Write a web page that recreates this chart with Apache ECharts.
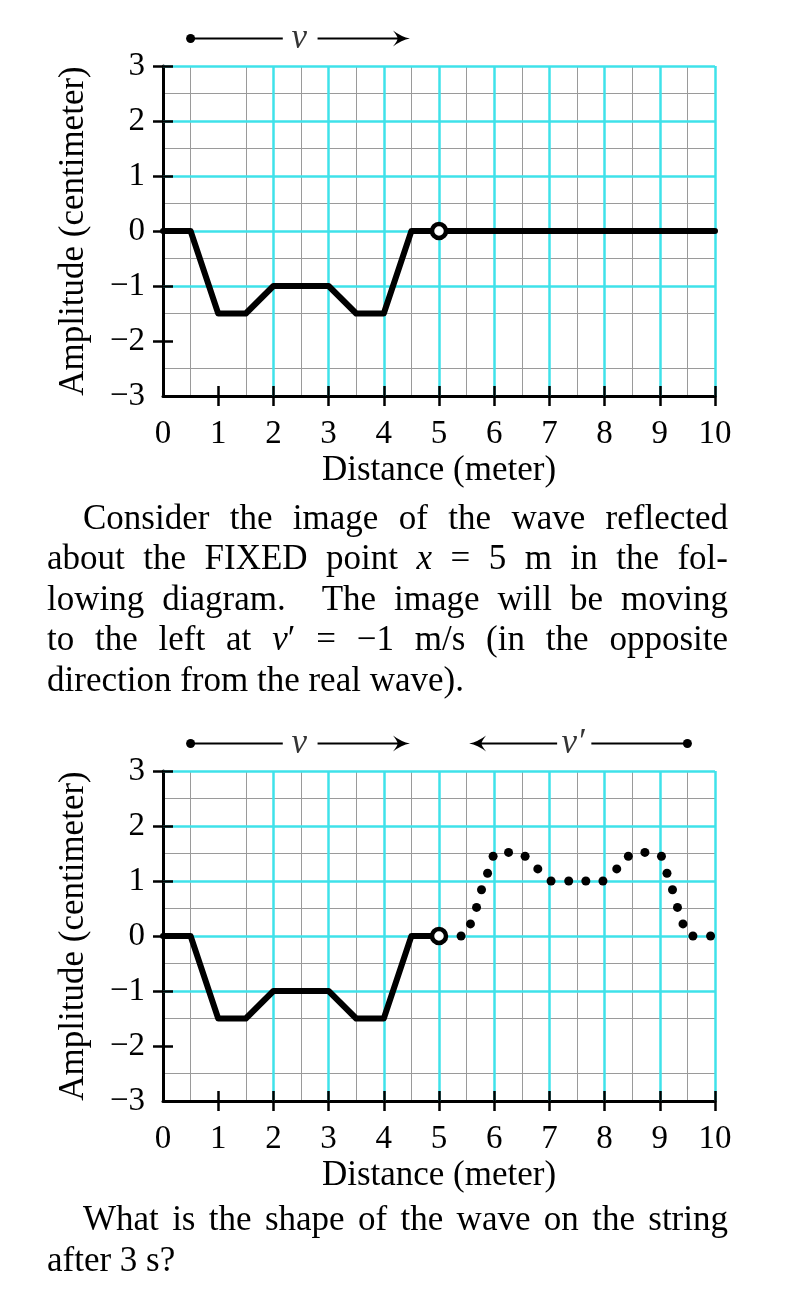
<!DOCTYPE html>
<html><head><meta charset="utf-8">
<script src="https://cdn.jsdelivr.net/npm/echarts@6/dist/echarts.min.js"></script>
<style>
html,body{margin:0;padding:0;background:#fff;}
#page{position:relative;width:800px;height:1302px;overflow:hidden;background:#fff;}
#chart{position:absolute;left:0;top:0;width:800px;height:1302px;}
.ln{position:absolute;font-family:'Liberation Serif','Times New Roman',serif;font-size:35px;line-height:40px;white-space:nowrap;color:#000;}
.j{text-align:justify;text-align-last:justify;white-space:normal;}
</style></head>
<body>
<div id="page">
<div id="chart"></div>
<div class="ln j" style="left:83px;width:645px;top:498px;">Consider the image of the wave reflected</div>
<div class="ln j" style="left:47px;width:681px;top:538px;">about the FIXED point <i>x</i> = 5 m in the fol-</div>
<div class="ln j" style="left:47px;width:681px;top:579px;">lowing diagram. &nbsp;The image will be moving</div>
<div class="ln j" style="left:47px;width:681px;top:619px;">to the left at <i>v</i>′ = −1 m/s (in the opposite</div>
<div class="ln" style="left:47px;top:660px;">direction from the real wave).</div>
<div class="ln j" style="left:83px;width:645px;top:1199px;">What is the shape of the wave on the string</div>
<div class="ln" style="left:47px;top:1240px;">after 3 s?</div>
</div>
<script>
// ---- data ----
const xTickValues = [1, 2, 3, 4, 5, 6, 7, 8, 9, 10];
const yTickValues = [-2, -1, 0, 1, 2, 3];
const waveX1 = [0, 0.5, 1, 1.5, 2, 3, 3.5, 4, 4.5, 5, 10];
const waveY1 = [0, 0, -1.5, -1.5, -1, -1, -1.5, -1.5, 0, 0, 0];
const waveX2 = [0, 0.5, 1, 1.5, 2, 3, 3.5, 4, 4.5, 5];
const waveY2 = [0, 0, -1.5, -1.5, -1, -1, -1.5, -1.5, 0, 0];
const fixedPoint = [5, 0];
const imageDotsX = [5.40, 5.57, 5.68, 5.77, 5.88, 5.98, 6.26, 6.56, 6.79, 7.03, 7.35, 7.66, 7.97, 8.22, 8.43, 8.73, 9.03, 9.13, 9.23, 9.32, 9.42, 9.60, 9.92];
const imageDotsY = [0, 0.22, 0.52, 0.84, 1.14, 1.45, 1.52, 1.45, 1.22, 1.0, 1.0, 1.0, 1.0, 1.22, 1.45, 1.52, 1.45, 1.14, 0.84, 0.52, 0.22, 0, 0];
// arrow annotations: [dot/tip, gapStart, gapEnd, tip/dot]
const vArrowX = [0.5, 2.17, 2.8, 4.32];
const vPrimeArrowX = [5.70, 7.14, 7.76, 9.5];
const arrowY = 3.5;
const vLabelX = 2.47;
const vPrimeLabelX = 7.43;

const FONT = "'Liberation Serif', 'Times New Roman', serif";
const CYAN = '#3fe2ea';
const GRAY = '#9a9a9a';
const ARROW = 'path://M5,0 Q6,6.5 10,13 Q6.5,9.5 5,9.5 Q3.5,9.5 0,13 Q4,6.5 5,0 Z';

function pairs(xs, ys) { return xs.map((x, i) => [x, ys[i]]); }

function xAxes(g) {
  return [{
    type: 'value', gridIndex: g, min: 0, max: 10, interval: 1, position: 'bottom',
    axisLine: { show: true, onZero: false, lineStyle: { color: '#000', width: 3 } },
    axisTick: { show: true, customValues: xTickValues, length: 10, lineStyle: { color: '#000', width: 2.5 } },
    axisLabel: { show: true, fontFamily: FONT, fontSize: 33, color: '#000', margin: 22 },
    splitLine: { show: false },
    minorTick: { show: false, splitNumber: 2 },
    minorSplitLine: { show: true, lineStyle: { color: GRAY, width: 1 } },
    name: 'Distance (meter)', nameLocation: 'middle', nameGap: 57,
    nameTextStyle: { fontFamily: FONT, fontSize: 35, color: '#000' },
    z: 0
  }, {
    type: 'value', gridIndex: g, min: 0, max: 10, interval: 1, position: 'bottom',
    axisLine: { show: false, onZero: false },
    axisTick: { show: true, inside: true, customValues: xTickValues, length: 10, lineStyle: { color: '#000', width: 2.5 } },
    axisLabel: { show: false },
    splitLine: { show: true, showMinLine: false, lineStyle: { color: CYAN, width: 2.5 } },
    z: 1
  }];
}
function yAxes(g) {
  return [{
    type: 'value', gridIndex: g, min: -3, max: 3, interval: 1, position: 'left',
    axisLine: { show: true, onZero: false, lineStyle: { color: '#000', width: 3 } },
    axisTick: { show: true, customValues: yTickValues, length: 10, lineStyle: { color: '#000', width: 2.5 } },
    axisLabel: { show: true, fontFamily: FONT, fontSize: 33, color: '#000', margin: 18,
      formatter: v => v < 0 ? '\u2212' + (-v) : String(v) },
    splitLine: { show: false },
    minorTick: { show: false, splitNumber: 2 },
    minorSplitLine: { show: true, lineStyle: { color: GRAY, width: 1 } },
    name: 'Amplitude (centimeter)', nameLocation: 'middle', nameGap: 72, nameRotate: 90,
    nameTextStyle: { fontFamily: FONT, fontSize: 35, color: '#000' },
    z: 0
  }, {
    type: 'value', gridIndex: g, min: -3, max: 3, interval: 1, position: 'left',
    axisLine: { show: false, onZero: false },
    axisTick: { show: true, inside: true, customValues: yTickValues, length: 10, lineStyle: { color: '#000', width: 2.5 } },
    axisLabel: { show: false },
    splitLine: { show: true, showMinLine: false, lineStyle: { color: CYAN, width: 2.5 } },
    z: 1
  }];
}

function waveSeries(ax, xs, ys) {
  return {
    type: 'line', xAxisIndex: ax, yAxisIndex: ax, data: pairs(xs, ys),
    symbol: 'none', lineStyle: { color: '#000', width: 6, join: 'round', cap: 'round' }, z: 3, animation: false
  };
}
function circleSeries(ax) {
  return {
    type: 'scatter', xAxisIndex: ax, yAxisIndex: ax, data: [fixedPoint],
    symbol: 'circle', symbolSize: 14,
    itemStyle: { color: '#fff', borderColor: '#000', borderWidth: 4.5, opacity: 1 }, z: 5, animation: false
  };
}
function segSeries(ax, a, b, symA, symB) {
  const d0 = { value: [a, arrowY] }, d1 = { value: [b, arrowY] };
  if (symA) Object.assign(d0, symA);
  if (symB) Object.assign(d1, symB);
  return {
    type: 'line', xAxisIndex: ax, yAxisIndex: ax, clip: false, data: [d0, d1],
    symbol: 'none', showSymbol: true, lineStyle: { color: '#000', width: 2 },
    itemStyle: { color: '#000', opacity: 1 }, z: 4, animation: false
  };
}
function labelSeries(ax, x, text) {
  return {
    type: 'scatter', xAxisIndex: ax, yAxisIndex: ax, clip: false, data: [[x, arrowY]],
    symbolSize: 1, itemStyle: { color: 'rgba(0,0,0,0)' },
    label: { show: true, position: 'inside', formatter: text, fontFamily: FONT, fontStyle: 'italic',
      fontSize: 35, color: '#000', offset: [0, 0] },
    z: 4, animation: false
  };
}
const DOT = { symbol: 'circle', symbolSize: 9 };
const RIGHT_HEAD = { symbol: ARROW, symbolSize: [16, 17], symbolRotate: -90 };
const LEFT_HEAD = { symbol: ARROW, symbolSize: [16, 17], symbolRotate: 90 };

function vArrow(ax) {
  return [
    segSeries(ax, vArrowX[0], vArrowX[1], DOT, null),
    segSeries(ax, vArrowX[2], vArrowX[3], null, RIGHT_HEAD),
    labelSeries(ax, vLabelX, 'v')
  ];
}
function vPrimeArrow(ax) {
  return [
    segSeries(ax, vPrimeArrowX[0], vPrimeArrowX[1], LEFT_HEAD, null),
    segSeries(ax, vPrimeArrowX[2], vPrimeArrowX[3], null, DOT),
    labelSeries(ax, vPrimeLabelX, 'v\u2032')
  ];
}

const chart = echarts.init(document.getElementById('chart'), null, { renderer: 'canvas' });
chart.setOption({
  animation: false,
  backgroundColor: 'transparent',
  grid: [
    { left: 163, top: 66, width: 552, height: 330 },
    { left: 163, top: 771, width: 552, height: 330 }
  ],
  xAxis: [...xAxes(0), ...xAxes(1)],
  yAxis: [...yAxes(0), ...yAxes(1)],
  series: [
    waveSeries(0, waveX1, waveY1),
    circleSeries(0),
    ...vArrow(0),
    waveSeries(2, waveX2, waveY2),
    {
      type: 'scatter', xAxisIndex: 2, yAxisIndex: 2, data: pairs(imageDotsX, imageDotsY),
      symbol: 'circle', symbolSize: 9, itemStyle: { color: '#000', opacity: 1 }, z: 4, animation: false
    },
    circleSeries(2),
    ...vArrow(2),
    ...vPrimeArrow(2)
  ]
});
</script>
</body></html>
